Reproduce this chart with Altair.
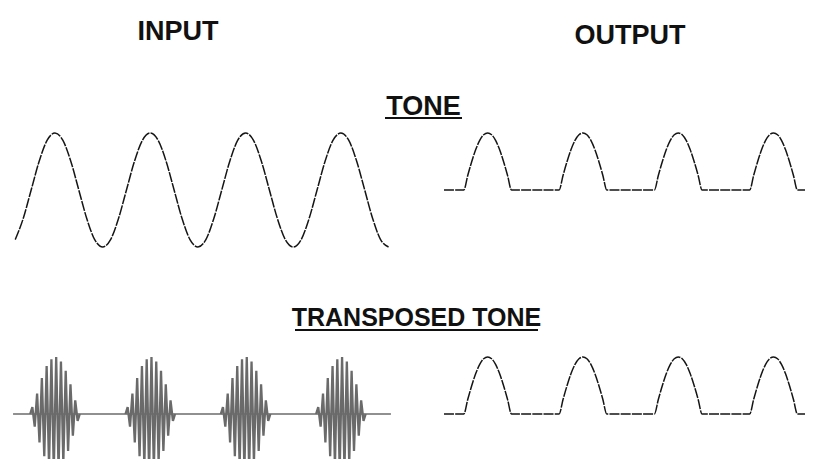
import altair as alt
import pandas as pd

# ---------------- data ----------------
# Input tone: samples every 1/12 of a period, starting 5 samples before the first peak
input_tone = [
    -0.87, -0.5, 0, 0.5, 0.87,
    1, 0.87, 0.5, 0, -0.5, -0.87, -1, -0.87, -0.5, 0, 0.5, 0.87,
    1, 0.87, 0.5, 0, -0.5, -0.87, -1, -0.87, -0.5, 0, 0.5, 0.87,
    1, 0.87, 0.5, 0, -0.5, -0.87, -1, -0.87, -0.5, 0, 0.5, 0.87,
    1, 0.87, 0.5, 0, -0.5, -0.87, -1,
]
input_first_sample = -5
input_samples_per_period = 12

# Output (half-wave rectified): samples every 1/24 of a period, starting 11 samples before the first peak
output_tone = [
    0, 0, 0, 0, 0, 0, 0.26, 0.5, 0.71, 0.87, 0.97,
    1, 0.97, 0.87, 0.71, 0.5, 0.26, 0, 0, 0, 0, 0, 0, 0, 0, 0, 0, 0, 0, 0, 0.26, 0.5, 0.71, 0.87, 0.97,
    1, 0.97, 0.87, 0.71, 0.5, 0.26, 0, 0, 0, 0, 0, 0, 0, 0, 0, 0, 0, 0, 0, 0.26, 0.5, 0.71, 0.87, 0.97,
    1, 0.97, 0.87, 0.71, 0.5, 0.26, 0, 0, 0, 0, 0, 0, 0, 0, 0, 0, 0, 0, 0, 0.26, 0.5, 0.71, 0.87, 0.97,
    1, 0.97, 0.87, 0.71, 0.5, 0.26, 0, 0, 0, 0, 0,
]
output_first_sample = -11
output_samples_per_period = 24

# Transposed tone: signed carrier extrema inside one burst (one burst per period)
burst_extrema = [0.12, -0.22, 0.36, -0.50, 0.63, -0.74, 0.84, -0.91, 0.96, -0.99,
                 1.00, -0.97, 0.92, -0.85, 0.76, -0.65, 0.52, -0.38, 0.24, -0.12]
burst_centres = [0, 1, 2, 3]
carrier_half_step = 0.025       # period fraction between extrema
burst_half_width = 0.26
trace_start, trace_end = -0.44, 3.525

titles = ["INPUT", "OUTPUT", "TONE", "TRANSPOSED TONE"]

# ---------------- layout ----------------
W, H = 797, 451
RIGHT_COL = 4.54       # horizontal offset (periods) of the output column
BOTTOM_ROW = -3.93     # vertical offset (amplitude units) of the bottom row
X_DOMAIN = [-0.493, 7.870]
Y_DOMAIN = [-4.719, 3.193]

xs = alt.Scale(domain=X_DOMAIN, nice=False, zero=False)
ys = alt.Scale(domain=Y_DOMAIN, nice=False, zero=False)

df_in = pd.DataFrame({
    "x": [(input_first_sample + i) / input_samples_per_period for i in range(len(input_tone))],
    "y": input_tone,
})

out_t = [(output_first_sample + i) / output_samples_per_period for i in range(len(output_tone))]
df_out = pd.concat([
    pd.DataFrame({"x": [t + RIGHT_COL for t in out_t], "y": output_tone, "row": "top"}),
    pd.DataFrame({"x": [t + RIGHT_COL for t in out_t], "y": [v + BOTTOM_ROW for v in output_tone], "row": "bottom"}),
])

rows = []
for n in burst_centres:
    rows.append({"x": n - burst_half_width, "y": BOTTOM_ROW, "burst": n})
    first = n - carrier_half_step * (len(burst_extrema) - 1) / 2
    for i, v in enumerate(burst_extrema):
        rows.append({"x": first + i * carrier_half_step, "y": v + BOTTOM_ROW, "burst": n})
    rows.append({"x": n + burst_half_width, "y": BOTTOM_ROW, "burst": n})
df_burst = pd.DataFrame(rows)

df_base = pd.DataFrame({"x": [trace_start, trace_end], "y": [BOTTOM_ROW, BOTTOM_ROW]})

X = alt.X("x:Q", scale=xs, axis=None)
Y = alt.Y("y:Q", scale=ys, axis=None)

line_style = dict(color="#151515", strokeWidth=1.5, strokeDash=[10, 1.2])

input_line = alt.Chart(df_in).mark_line(interpolate="monotone", **line_style).encode(x=X, y=Y)
output_line = alt.Chart(df_out).mark_line(interpolate="monotone", **line_style).encode(
    x=X, y=Y, detail="row:N")
base_line = alt.Chart(df_base).mark_line(color="#222222", strokeWidth=1.1).encode(x=X, y=Y)
burst_line = alt.Chart(df_burst).mark_line(color="#6a6a6a", strokeWidth=2.3).encode(
    x=X, y=Y, detail="burst:N", order="x:Q")


def title(label, cx, by, size):
    return alt.Chart(pd.DataFrame({"label": [label]})).mark_text(
        font="Liberation Sans", fontWeight="bold", fontSize=size, color="#111111",
        align="center", baseline="alphabetic",
    ).encode(x=alt.value(cx), y=alt.value(by), text="label:N")


def underline(x1, x2, yv):
    return alt.Chart(pd.DataFrame({"label": ["u"]})).mark_rule(
        color="#111111", strokeWidth=2.2).encode(
        x=alt.value(x1), x2=alt.value(x2), y=alt.value(yv))


layers = [
    base_line, burst_line, input_line, output_line,
    title(titles[0], 170, 32, 27),
    title(titles[1], 622, 36, 27),
    title(titles[2], 415.5, 107, 27),
    underline(377, 454, 110),
    title(titles[3], 408.5, 318, 25),
    underline(287, 530, 322),
]

chart = alt.layer(*layers).properties(
    width=W, height=H, padding=0, autosize=alt.AutoSizeParams(type="none"),
    background="white",
).configure_view(stroke=None)

chart.save("out.html", embed_options={"renderer": "svg", "actions": False})
